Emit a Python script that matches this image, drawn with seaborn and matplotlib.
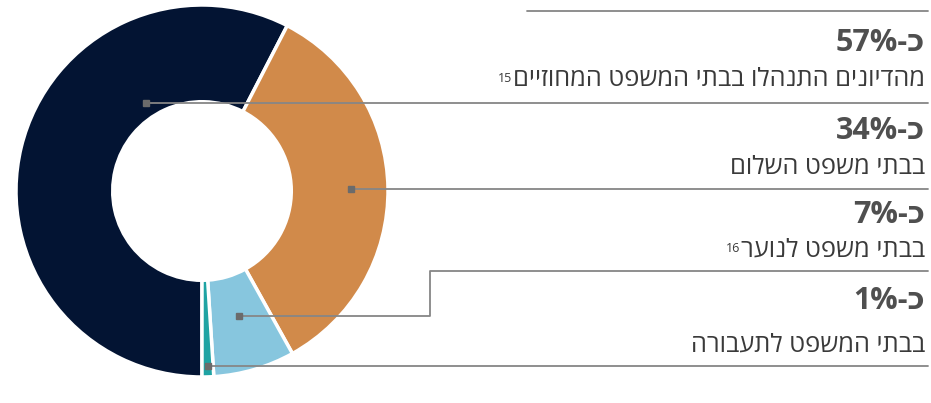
import numpy as np
import matplotlib
matplotlib.use("Agg")
import matplotlib.pyplot as plt
import seaborn as sns

# ------- Data: share of hearings by court type (%) -------
courts = [
    "מהדיונים התנהלו בבתי המשפט המחוזיים",
    "בבתי משפט השלום",
    "בבתי משפט לנוער",
    "בבתי המשפט לתעבורה",
]
shares = [57, 34, 7, 1]
footnotes = ["15", "", "16", ""]
colors = ["#031433", "#D18A4A", "#87C6DE", "#1FA3A3"]

sns.set_theme(style="white")
plt.rcParams["font.family"] = ["Open Sans", "DejaVu Sans"]


def rtl(s):
    # matplotlib has no bidi support, so flip Hebrew to visual order
    return s[::-1]


W, H = 931, 403
fig = plt.figure(figsize=(W / 100, H / 100), dpi=100)

# ------- Donut -------
cx, cy, R = 202, 191, 186
ax = fig.add_axes([(cx - R) / W, 1 - (cy + R) / H, 2 * R / W, 2 * R / H])
wedges, _ = ax.pie(shares, colors=colors, startangle=-90, counterclock=False,
                   radius=1, wedgeprops=dict(width=0.52, edgecolor="white", linewidth=2.5))
ax.set_xlim(-1, 1)
ax.set_ylim(-1, 1)
ax.set_aspect("equal")
ax.axis("off")

# ------- Overlay in pixel coords for callouts -------
ov = fig.add_axes([0, 0, 1, 1])
ov.set_xlim(0, W)
ov.set_ylim(H, 0)
ov.axis("off")

line_c = "#868686"
mark_c = "#6b6b6b"
pct_c = "#4f4f4f"
txt_c = "#3a3a3a"
x_right = 925

# where the callout dot sits inside each wedge (fraction along arc, radius)
anchor_frac = [0.29, 0.5, 0.5, 0.5]
anchor_r = [0.56, 0.80, 0.70, 0.94]

pct_y = [43, 131, 215, 301]
txt_y = [80, 168, 250, 345]
rule_y = [102, 186, 271, 366]

ov.plot([527, x_right + 3], [11, 11], color=line_c, lw=1.3)

labels = []
for i, w in enumerate(wedges):
    ang = np.deg2rad(w.theta1 + anchor_frac[i] * (w.theta2 - w.theta1))
    mx = cx + anchor_r[i] * R * np.cos(ang)
    my = cy - anchor_r[i] * R * np.sin(ang)
    if i == 2:
        elbow = 430
        ov.plot([mx, elbow, elbow, x_right + 3], [my, my, rule_y[i], rule_y[i]],
                color=line_c, lw=1.3)
    else:
        ov.plot([mx, x_right + 3], [my, my], color=line_c, lw=1.3)
    ov.plot(mx, my, marker="s", ms=5, color=mark_c, mec=mark_c)

    ov.text(x_right, pct_y[i], f"{shares[i]}%-" + "כ", ha="right", va="center",
            fontsize=22, fontweight="bold", color=pct_c)
    t = ov.text(x_right, txt_y[i], rtl(courts[i]), ha="right", va="center",
                fontsize=18.3, color=txt_c)
    labels.append(t)

# footnote markers go just left of the (visually) last word
fig.canvas.draw()
for i, t in enumerate(labels):
    if footnotes[i]:
        bb = t.get_window_extent()
        ov.text(bb.x0 - 1, H - bb.y1 + 4, footnotes[i], ha="right", va="top",
                fontsize=9, color=txt_c)

fig.savefig("out.png", dpi=100)
